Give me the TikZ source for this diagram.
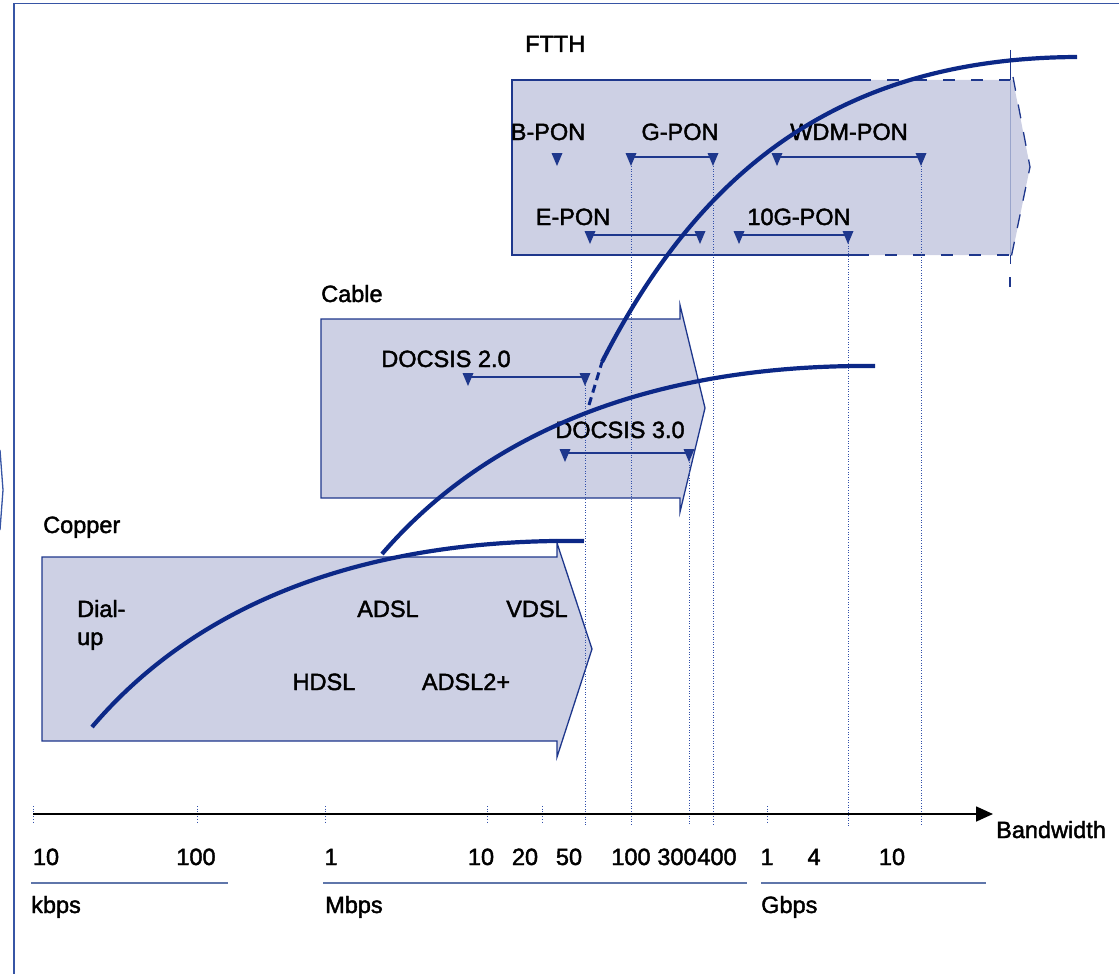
\documentclass[tikz,border=0pt]{standalone}
\usepackage{fontspec}
\setmainfont{Liberation Sans}
\newfontfamily\mylblfont{Liberation Sans}[FakeBold=1.8]
\usetikzlibrary{arrows.meta}
\definecolor{fillc}{RGB}{205,208,228}
\definecolor{edgec}{RGB}{30,55,140}
\definecolor{curvec}{RGB}{12,40,135}
\definecolor{framec}{RGB}{55,85,165}
\definecolor{ulc}{RGB}{95,118,170}
\definecolor{guidec}{RGB}{50,80,170}
\newcommand\mytri[2]{\fill[edgec] ({#1-5.5},{#2-4}) -- ({#1+5.5},{#2-4}) -- (#1,{#2+9}) -- cycle;}
\begin{document}
\begin{tikzpicture}[x=1pt,y=-1pt,
  every node/.style={inner sep=0pt, font=\mylblfont\fontsize{23.5}{27}\selectfont},
  lb/.style={anchor=base},
  lbw/.style={anchor=base west},
  outl/.style={draw=edgec, line width=1.3pt},
  dimline/.style={edgec, line width=1.3pt},
  guide/.style={guidec, line width=0.9pt, dash pattern=on 1pt off 1.6pt},
  thick curve/.style={curvec, line width=4.2pt},
  ul/.style={ulc, line width=2.6pt}]
\useasboundingbox (0,0) rectangle (1119,974);
% frame
\draw[framec, line width=1.8pt] (14,974) -- (14,3.5) -- (1119,3.5);
\draw[framec, line width=1.3pt] (0,450) -- (3,490) -- (0,530);

% Copper arrow
\fill[fillc] (42,557) -- (557,557) -- (557,543) -- (592,649) -- (557,757) -- (557,741) -- (42,741) -- cycle;
\draw[outl] (42,557) -- (557,557) -- (557,543) -- (592,649) -- (557,757) -- (557,741) -- (42,741) -- cycle;
% Cable arrow
\fill[fillc] (321,319) -- (680,319) -- (680,305) -- (705,408) -- (680,512) -- (680,498) -- (321,498) -- cycle;
\draw[outl] (321,319) -- (680,319) -- (680,305) -- (705,408) -- (680,512) -- (680,498) -- (321,498) -- cycle;
% FTTH arrow
\fill[fillc] (512,80) -- (1013,80) -- (1030,167) -- (1012,255) -- (512,255) -- cycle;
\draw[outl] (859,80) -- (512,80) -- (512,255) -- (857,255);
\draw[outl, dash pattern=on 12pt off 16pt] (859,80) -- (1010,80);
\draw[outl, dash pattern=on 12pt off 16pt] (857,255) -- (1010,255);
\draw[outl, dash pattern=on 14pt off 14pt] (1013,77) -- (1030,167) -- (1011,258);
\draw[edgec, line width=1pt] (1010,50) -- (1010,80);
\draw[edgec!45, line width=1pt] (1010,80) -- (1010,255);
\draw[edgec, line width=1pt] (1010,255) -- (1010,264);
\draw[edgec, line width=1.3pt] (1010,277) -- (1010,287);

% category labels
\node[lbw] (ftth) at (525,52) {FTTH};
\node[lbw] (cable) at (321,302) {Cable};
\node[lbw] (copper) at (43,533) {Copper};

% copper texts
\node[lbw] (dial) at (77,617) {Dial-};
\node[lbw] (up) at (77,645) {up};
\node[lb] (adsl) at (388,617) {ADSL};
\node[lb] (vdsl) at (537,617) {VDSL};
\node[lb] (hdsl) at (324,690) {HDSL};
\node[lb] (adsl2) at (466,690) {ADSL2+};

% cable texts
\node[lb] (d20) at (446,367) {DOCSIS 2.0};
\node[lb] (d30) at (620,438) {DOCSIS 3.0};

% ftth texts
\node[lb] (bpon) at (548,140) {B-PON};
\node[lb] (gpon) at (680,140) {G-PON};
\node[lb] (wdm) at (849,140) {WDM-PON};
\node[lb] (epon) at (573,225) {E-PON};
\node[lb] (tgpon) at (799,225) {10G-PON};

% guide lines
\draw[guide] (585,385) -- (585,826);
\draw[guide] (631,166) -- (631,826);
\draw[guide] (689,462) -- (689,826);
\draw[guide] (713,166) -- (713,826);
\draw[guide] (848,243) -- (848,826);
\draw[guide] (921,166) -- (921,826);
\foreach \t in {33,197,325,487,542,767} {\draw[guide] (\t,806) -- (\t,822);}

% dimension arrows
\mytri{557}{157}
\draw[dimline] (631,157) -- (713,157); \mytri{631}{157}\mytri{713}{157}
\draw[dimline] (777,157) -- (921,157); \mytri{777}{157}\mytri{921}{157}
\draw[dimline] (590,235) -- (700,235); \mytri{590}{235}\mytri{700}{235}
\draw[dimline] (739,235) -- (848,235); \mytri{739}{235}\mytri{848}{235}
\draw[dimline] (468,377) -- (585,377); \mytri{468}{377}\mytri{585}{377}
\draw[dimline] (565,453) -- (689,453); \mytri{565}{453}\mytri{689}{453}

% curves
\coordinate (c1s) at (92,727);
\coordinate (c1e) at (584,541);
\coordinate (c2s) at (382,554);
\coordinate (c2e) at (875,366);
\coordinate (c3d) at (589,405);
\coordinate (c3s) at (602,362);
\coordinate (c3e) at (1077,57);
\draw[thick curve] (c1s) .. controls (200,600) and (370,538) .. (c1e);
\draw[thick curve] (c2s) .. controls (480,440) and (640,364) .. (c2e);
\draw[curvec, line width=3pt, dash pattern=on 8pt off 5pt] (c3d) -- (c3s);
\draw[thick curve] (c3s) .. controls (700,170) and (840,58) .. (c3e);

% axis
\draw[line width=1.6pt, -{Triangle[length=17pt,width=15pt]}] (33,814) -- (993,814);
\node[lbw] (bw) at (996,838) {Bandwidth};

% axis labels
\node[lb] (a10k) at (46,865) {10};
\node[lb] (a100k) at (196,865) {100};
\node[lb] (a1m) at (331,865) {1};
\node[lb] (a10m) at (481,865) {10};
\node[lb] (a20m) at (525,865) {20};
\node[lb] (a50m) at (569,865) {50};
\node[lb] (a100m) at (631,865) {100};
\node[lb] (a300m) at (677,865) {300};
\node[lb] (a400m) at (717,865) {400};
\node[lb] (a1g) at (767,865) {1};
\node[lb] (a4g) at (814,865) {4};
\node[lb] (a10g) at (892,865) {10};

% unit underlines and labels
\draw[ul] (31,883) -- (228,883);
\draw[ul] (323,883) -- (747,883);
\draw[ul] (761,883) -- (986,883);
\node[lbw] (kbps) at (31,913) {kbps};
\node[lbw] (mbps) at (325,913) {Mbps};
\node[lbw] (gbps) at (761,913) {Gbps};
\end{tikzpicture}
\end{document}
